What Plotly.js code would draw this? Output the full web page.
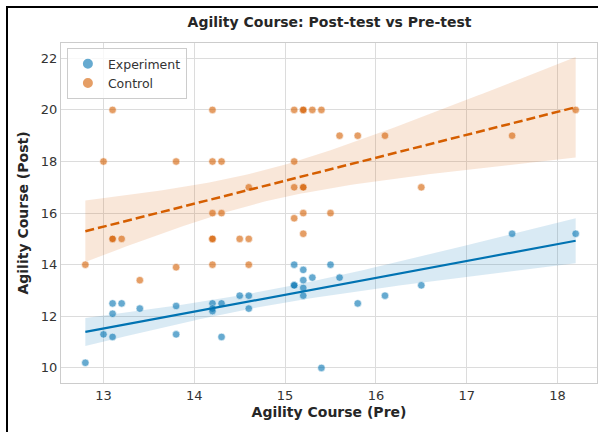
<!DOCTYPE html>
<html>
<head>
<meta charset="utf-8">
<script src="https://cdn.plot.ly/plotly-3.0.1.min.js"></script>
<style>html,body{margin:0;padding:0;background:#fff;}#chart{width:598px;height:432px;}</style>
</head>
<body>
<div id="chart"></div>
<script>
// Experiment group: pre-test and post-test times
const preExp  = [12.8, 13.0, 13.1, 13.1, 13.1, 13.2, 13.4, 13.8, 13.8, 14.2, 14.2, 14.2, 14.3, 14.3, 14.5, 14.6, 14.6,
                 15.1, 15.1, 15.1, 15.2, 15.2, 15.2, 15.2, 15.3, 15.4, 15.5, 15.6, 15.8, 16.1, 16.5, 17.5, 18.2];
const postExp = [10.2, 11.3, 11.2, 12.1, 12.5, 12.5, 12.3, 12.4, 11.3, 12.5, 12.3, 12.2, 12.5, 11.2, 12.8, 12.8, 12.3,
                 14.0, 13.2, 13.2, 13.8, 13.4, 13.1, 12.8, 13.5, 10.0, 14.0, 13.5, 12.5, 12.8, 13.2, 15.2, 15.2];
// Control group
const preCtl  = [13.1, 14.2, 15.1, 15.2, 15.2, 15.3, 15.4, 18.2, 13.0, 13.8, 14.2, 14.3, 15.1, 15.6, 15.8, 16.1, 17.5,
                 14.6, 15.1, 15.2, 15.2, 16.5, 14.2, 14.3, 15.1, 15.2, 15.5, 15.2, 13.1, 13.1, 13.2, 14.2, 14.2, 14.5,
                 14.6, 12.8, 13.8, 13.4, 14.2, 14.6];
const postCtl = [20, 20, 20, 20, 20, 20, 20, 20, 18, 18, 18, 18, 18, 19, 19, 19, 19,
                 17, 17, 17, 17, 17, 16, 16, 15.8, 16, 16, 15.2, 15, 15, 15, 15, 15, 15,
                 15, 14, 13.9, 13.4, 14, 14];
const groupNames = ["Experiment", "Control"];
const xTicks = [13, 14, 15, 16, 17, 18];
const yTicks = [10, 12, 14, 16, 18, 20, 22];

function regress(x, y) {
  const n = x.length;
  const mx = x.reduce((a, b) => a + b, 0) / n;
  const my = y.reduce((a, b) => a + b, 0) / n;
  let sxx = 0, sxy = 0;
  for (let i = 0; i < n; i++) { sxx += (x[i] - mx) ** 2; sxy += (x[i] - mx) * (y[i] - my); }
  const b = sxy / sxx, a = my - b * mx;
  let sse = 0;
  for (let i = 0; i < n; i++) sse += (y[i] - a - b * x[i]) ** 2;
  const s = Math.sqrt(sse / (n - 2));
  const df = n - 2, z = 1.96;
  const t = z + (z ** 3 + z) / (4 * df) + (5 * z ** 5 + 16 * z ** 3 + 3 * z) / (96 * df * df);
  const lo = Math.min(...x), hi = Math.max(...x);
  const xs = [], yh = [], yl = [], yu = [];
  for (let k = 0; k <= 100; k++) {
    const xv = lo + (hi - lo) * k / 100;
    const yv = a + b * xv;
    const se = s * Math.sqrt(1 / n + (xv - mx) ** 2 / sxx);
    xs.push(xv); yh.push(yv); yl.push(yv - t * se); yu.push(yv + t * se);
  }
  return { xs, yh, yl, yu };
}

const cBlue = "#0173b2", cOrange = "#d55e00";
const rE = regress(preExp, postExp);
const rC = regress(preCtl, postCtl);

function band(r, color) {
  return {
    x: r.xs.concat(r.xs.slice().reverse()),
    y: r.yu.concat(r.yl.slice().reverse()),
    type: "scatter", mode: "lines", fill: "toself",
    fillcolor: color, line: { width: 0 }, hoverinfo: "skip", showlegend: false
  };
}

const traces = [
  band(rE, "rgba(1,115,178,0.15)"),
  band(rC, "rgba(213,94,0,0.15)"),
  { x: preExp, y: postExp, type: "scatter", mode: "markers", name: groupNames[0],
    marker: { color: cBlue, opacity: 0.6, size: 7.5, line: { color: "#ffffff", width: 0.6 } } },
  { x: preCtl, y: postCtl, type: "scatter", mode: "markers", name: groupNames[1],
    marker: { color: cOrange, opacity: 0.6, size: 7.5, line: { color: "#ffffff", width: 0.6 } } },
  { x: rE.xs, y: rE.yh, type: "scatter", mode: "lines", showlegend: false,
    line: { color: cBlue, width: 2.2 } },
  { x: rC.xs, y: rC.yh, type: "scatter", mode: "lines", showlegend: false,
    line: { color: cOrange, width: 2.5, dash: "9px,4px" } }
];

const fam = "DejaVu Sans, sans-serif";
const layout = {
  width: 598, height: 432,
  margin: { l: 61, r: 1, t: 43, b: 49, pad: 0 },
  paper_bgcolor: "#ffffff", plot_bgcolor: "#ffffff",
  font: { family: fam, size: 13, color: "#333333" },
  title: { text: "<b>Agility Course: Post-test vs Pre-test</b>", x: 0.551, xanchor: "center",
           y: 0.949, yanchor: "middle", font: { family: fam, size: 14, color: "#262626" } },
  xaxis: {
    range: [12.532, 18.435], tickvals: xTicks, ticktext: xTicks.map(String),
    showgrid: true, gridcolor: "#dcdcdc", gridwidth: 1, zeroline: false,
    showline: true, linecolor: "#cccccc", linewidth: 1, mirror: true, ticks: "", ticklen: 0,
    tickfont: { family: fam, size: 13, color: "#333333" },
    title: { text: "<b>Agility Course (Pre)</b>", standoff: 5,
             font: { family: fam, size: 14, color: "#262626" } }
  },
  yaxis: {
    range: [9.415, 22.593], tickvals: yTicks, ticktext: yTicks.map(String),
    showgrid: true, gridcolor: "#dcdcdc", gridwidth: 1, zeroline: false,
    showline: true, linecolor: "#cccccc", linewidth: 1, mirror: true, ticks: "", ticklen: 0,
    tickfont: { family: fam, size: 13, color: "#333333" },
    title: { text: "<b>Agility Course (Post)</b>", standoff: 8,
             font: { family: fam, size: 14, color: "#262626" } }
  },
  legend: {
    x: 0.011, y: 0.985, xanchor: "left", yanchor: "top",
    bgcolor: "rgba(255,255,255,0.8)", bordercolor: "#cccccc", borderwidth: 1,
    font: { family: fam, size: 12.5, color: "#333333" },
    itemsizing: "constant", tracegroupgap: 0
  },
  shapes: [{
    type: "rect", xref: "paper", yref: "paper",
    x0: -54 / 536, x1: 1.2, y0: -0.2, y1: 1 + 36 / 340,
    line: { color: "#000000", width: 2 }, fillcolor: "rgba(0,0,0,0)", layer: "above"
  }],
  showlegend: true
};

Plotly.newPlot("chart", traces, layout, { displayModeBar: false, staticPlot: true });
</script>
</body>
</html>
